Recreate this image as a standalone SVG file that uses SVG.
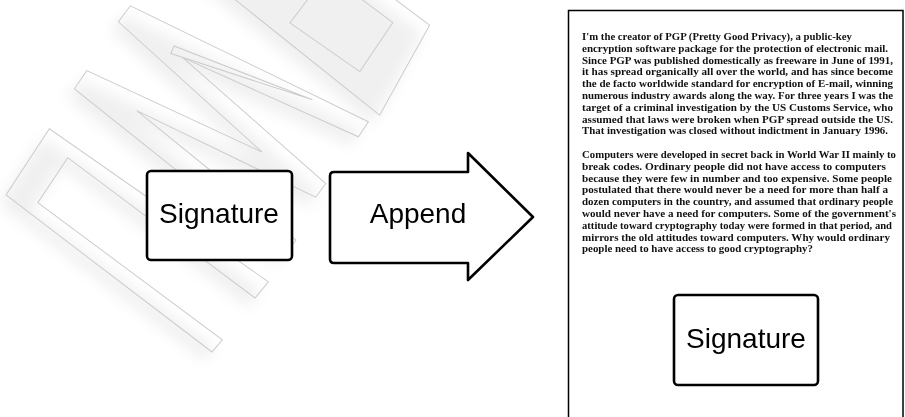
<svg xmlns="http://www.w3.org/2000/svg" width="905" height="417" viewBox="0 0 905 417">
  <defs>
    <filter id="soft" x="-30%" y="-30%" width="160%" height="160%">
      <feGaussianBlur stdDeviation="7"/>
    </filter>
    <style>
      .wm { fill: none; stroke: #cccccc; stroke-width: 1; stroke-linejoin: miter; }
      .wmshadow { fill: #000; opacity: 0.06; stroke: none; }
      .box { fill: #fff; stroke: #000; stroke-width: 2.6; }
      .lbl { font-family: "Liberation Sans", Arial, sans-serif; font-size: 28px; fill: #000; text-anchor: middle; }
      .page { fill: #fff; stroke: #000; stroke-width: 1.5; }
      .p { font-family: "Liberation Serif", "Times New Roman", serif; font-size: 10.5px; font-weight: bold; fill: #111; }
    </style>
  </defs>

  <rect x="0" y="0" width="905" height="417" fill="#fff"/>

  <!-- faint background watermark shapes -->
  <g id="watermark">
    <g transform="translate(-7,9) matrix(0.6,-0.8,0.8,0.6,212,352)" filter="url(#soft)">
      <path class="wmshadow" d="M0,0 L2,-259 L81,-264 L90,3 L69,2 L69,-232 L15,-229 L16,1 Z"/>
      <path class="wmshadow" d="M120,0 L128,-268 L150,-269 L190,-80 L208,-273 L228,-273 L278,-13 L260,-12 L218,-200 L203,-10 L186,-10 L148,-205 L140,0 Z"/>
      <path class="wmshadow" d="M290,-8 L300,-330 L392,-330 L392,-22 Z"/>
    </g>
    <g transform="matrix(0.6,-0.8,0.8,0.6,212,352)">
      <path class="wm" d="M0,0 L2,-259 L81,-264 L90,3 L69,2 L69,-232 L15,-229 L16,1 Z"/>
      <path class="wm" d="M120,0 L128,-268 L150,-269 L190,-80 L208,-273 L228,-273 L278,-13 L260,-12 L218,-200 L203,-10 L186,-10 L148,-205 L140,0 Z"/>
      <path class="wm" d="M214,-212 L262,-71 L222,-214 Z"/>
      <path class="wm" d="M290,-8 L300,-330 L392,-330 L392,-22 Z"/>
      <path class="wm" d="M313,-50 L310,-135 L372,-135 L372,-53 Z"/>
    </g>
  </g>

  <!-- left signature node -->
  <g id="signature">
    <rect class="box" x="147" y="171" width="145" height="89" rx="4"/>
    <text class="lbl" x="219" y="223">Signature</text>
  </g>

  <!-- connector: block arrow "Append" -->
  <g id="connectors">
    <g id="append-arrow">
      <path class="box" stroke-linejoin="round" d="M334,172 L468,172 L468,153 L533,217 L468,280 L468,263 L334,263 Q330,263 330,259 L330,176 Q330,172 334,172 Z"/>
      <text class="lbl" x="418" y="223">Append</text>
    </g>
  </g>

  <!-- document node with appended signature -->
  <g id="document">
    <rect class="page" x="568.5" y="10.5" width="334.5" height="420"/>
    <g id="doc-text">
      <text class="p" x="582" y="40" textLength="270" lengthAdjust="spacingAndGlyphs">I'm the creator of PGP (Pretty Good Privacy), a public-key</text>
      <text class="p" x="582" y="51.8" textLength="306" lengthAdjust="spacingAndGlyphs">encryption software package for the protection of electronic mail.</text>
      <text class="p" x="582" y="63.6" textLength="311" lengthAdjust="spacingAndGlyphs">Since PGP was published domestically as freeware in June of 1991,</text>
      <text class="p" x="582" y="75.4" textLength="311" lengthAdjust="spacingAndGlyphs">it has spread organically all over the world, and has since become</text>
      <text class="p" x="582" y="87.2" textLength="311" lengthAdjust="spacingAndGlyphs">the de facto worldwide standard for encryption of E-mail, winning</text>
      <text class="p" x="582" y="99" textLength="311" lengthAdjust="spacingAndGlyphs">numerous industry awards along the way. For three years I was the</text>
      <text class="p" x="582" y="110.8" textLength="311" lengthAdjust="spacingAndGlyphs">target of a criminal investigation by the US Customs Service, who</text>
      <text class="p" x="582" y="122.6" textLength="311" lengthAdjust="spacingAndGlyphs">assumed that laws were broken when PGP spread outside the US.</text>
      <text class="p" x="582" y="134.4" textLength="306" lengthAdjust="spacingAndGlyphs">That investigation was closed without indictment in January 1996.</text>

      <text class="p" x="582" y="158" textLength="314" lengthAdjust="spacingAndGlyphs">Computers were developed in secret back in World War II mainly to</text>
      <text class="p" x="582" y="169.8" textLength="304" lengthAdjust="spacingAndGlyphs">break codes. Ordinary people did not have access to computers</text>
      <text class="p" x="582" y="181.6" textLength="310" lengthAdjust="spacingAndGlyphs">because they were few in number and too expensive. Some people</text>
      <text class="p" x="582" y="193.4" textLength="306" lengthAdjust="spacingAndGlyphs">postulated that there would never be a need for more than half a</text>
      <text class="p" x="582" y="205.2" textLength="311" lengthAdjust="spacingAndGlyphs">dozen computers in the country, and assumed that ordinary people</text>
      <text class="p" x="582" y="217" textLength="314" lengthAdjust="spacingAndGlyphs">would never have a need for computers. Some of the government's</text>
      <text class="p" x="582" y="228.8" textLength="310" lengthAdjust="spacingAndGlyphs">attitude toward cryptography today were formed in that period, and</text>
      <text class="p" x="582" y="240.6" textLength="308" lengthAdjust="spacingAndGlyphs">mirrors the old attitudes toward computers. Why would ordinary</text>
      <text class="p" x="582" y="252.4" textLength="231" lengthAdjust="spacingAndGlyphs">people need to have access to good cryptography?</text>
    </g>
    <g id="appended-signature">
      <rect class="box" x="674" y="295" width="144" height="90" rx="4"/>
      <text class="lbl" x="746" y="348">Signature</text>
    </g>
  </g>
</svg>
